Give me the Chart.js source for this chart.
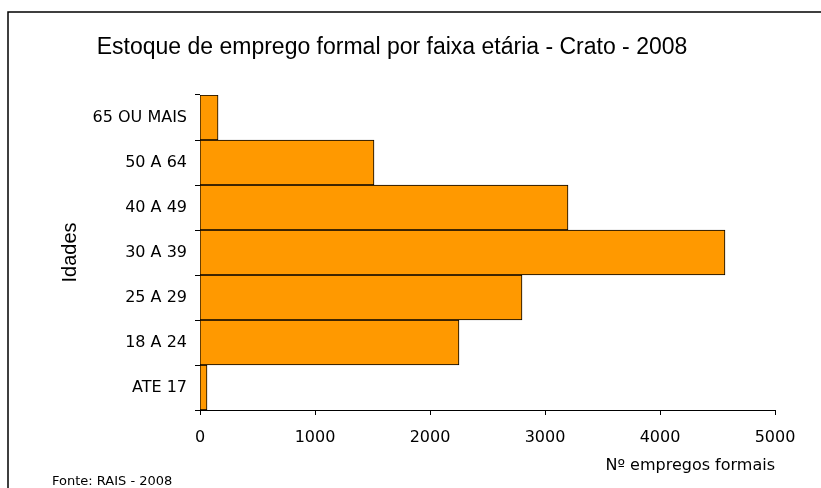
<!DOCTYPE html>
<html>
<head>
<meta charset="utf-8">
<script src="https://cdn.jsdelivr.net/npm/chart.js@4.4.1/dist/chart.umd.min.js"></script>
<style>
  html, body { margin: 0; padding: 0; background: #fff; }
  #wrap { width: 821px; height: 488px; position: relative; overflow: hidden; }
</style>
</head>
<body>
<div id="wrap"><canvas id="chart" width="821" height="488"></canvas></div>
<script>
// faixas etárias, de baixo para cima no gráfico
const faixas = ['ATE 17', '18 A 24', '25 A 29', '30 A 39', '40 A 49', '50 A 64', '65 OU MAIS'];
const empregos = [61, 2252, 2800, 4565, 3200, 1513, 157];
const xTicks = [0, 1000, 2000, 3000, 4000, 5000];

const tituloGrafico = 'Estoque de emprego formal por faixa etária - Crato - 2008';
const fonte = 'Fonte: RAIS - 2008';

const tickFont = { family: 'DejaVu Sans', size: 16 };

// moldura, título e fonte desenhados à mão
const decoracao = {
    id: 'decoracao',
    beforeDraw(chart) {
        const ctx = chart.ctx;
        ctx.save();
        ctx.fillStyle = '#fff';
        ctx.fillRect(0, 0, chart.width, chart.height);
        ctx.strokeStyle = '#000';
        ctx.lineWidth = 1.5;
        ctx.beginPath();
        ctx.moveTo(8, chart.height + 2);
        ctx.lineTo(8, 12);
        ctx.lineTo(chart.width + 2, 12);
        ctx.stroke();
        ctx.restore();
    },
    afterDraw(chart) {
        const ctx = chart.ctx;
        ctx.save();
        ctx.fillStyle = '#000';
        ctx.font = '23px "Liberation Sans"';
        ctx.textAlign = 'center';
        ctx.textBaseline = 'middle';
        ctx.fillText(tituloGrafico, 392, 48);
        ctx.font = '13px "DejaVu Sans"';
        ctx.textAlign = 'left';
        ctx.textBaseline = 'alphabetic';
        ctx.fillText(fonte, 52, 485);
        ctx.restore();
    }
};

new Chart(document.getElementById('chart'), {
    type: 'bar',
    data: {
        labels: faixas,
        datasets: [{
            data: empregos,
            backgroundColor: '#FF9900',
            borderColor: '#000',
            borderWidth: 1,
            categoryPercentage: 1,
            barPercentage: 1
        }]
    },
    options: {
        indexAxis: 'y',
        responsive: false,
        devicePixelRatio: 1,
        animation: false,
        layout: { padding: { top: 95, right: 46, left: 0, bottom: 0 } },
        plugins: {
            legend: { display: false },
            tooltip: { enabled: false },
            title: { display: false }
        },
        scales: {
            x: {
                min: 0,
                max: 5000,
                afterBuildTicks: (scale) => { scale.ticks = xTicks.map(v => ({ value: v })); },
                afterFit: (scale) => { scale.height = 78; },
                border: { color: '#000', width: 1 },
                grid: { drawOnChartArea: false, drawTicks: true, tickLength: 5, color: '#000' },
                ticks: {
                    color: '#000',
                    font: tickFont,
                    padding: 13,
                    maxRotation: 0,
                    callback: (v) => String(v)
                },
                title: {
                    display: true,
                    text: 'Nº empregos formais',
                    align: 'end',
                    color: '#000',
                    font: { family: 'DejaVu Sans', size: 16 },
                    padding: { top: 0, bottom: 13 }
                }
            },
            y: {
                reverse: true,
                afterFit: (scale) => { scale.width = 200; },
                border: { color: '#000', width: 1 },
                grid: { drawOnChartArea: false, drawTicks: true, tickLength: 5, color: '#000', offset: true },
                ticks: { color: '#000', font: tickFont, padding: 8 },
                title: {
                    display: true,
                    text: 'Idades',
                    color: '#000',
                    font: { family: 'Liberation Sans', size: 20 },
                    padding: { top: 58, bottom: 0 }
                }
            }
        }
    },
    plugins: [decoracao]
});
</script>
</body>
</html>
